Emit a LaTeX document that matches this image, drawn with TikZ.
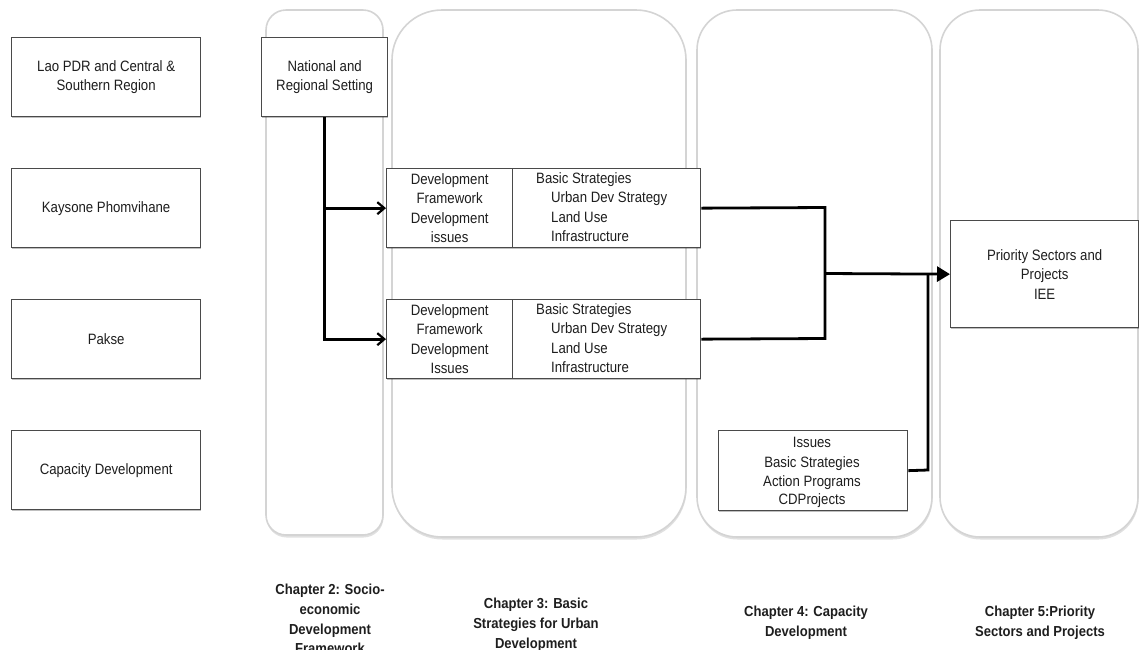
\documentclass[tikz,border=0pt]{standalone}
\usepackage{fontspec}
\setmainfont{Liberation Sans}[FakeStretch=0.88]
\newfontfamily\chapfont{Liberation Sans}[FakeStretch=0.9]
\usetikzlibrary{arrows.meta,shadows}
\definecolor{boxline}{HTML}{4A4A4A}
\definecolor{colline}{HTML}{D4D4D4}
\definecolor{txt}{HTML}{1E1E1E}
\begin{document}
\begin{tikzpicture}[x=1pt,y=-1pt,
  column/.style={draw=colline,line width=1.6pt,fill=white,
    drop shadow={shadow xshift=0.5pt,shadow yshift=-2.5pt,opacity=0.12,fill=black}},
  box/.style={draw=boxline,line width=1.3pt,fill=white,inner sep=0pt,anchor=north west,
    text=txt,align=center,font=\fontsize{15}{19.5}\selectfont,
    drop shadow={shadow xshift=0.6pt,shadow yshift=-1.2pt,opacity=0.25,fill=black}},
  plain/.style={inner sep=0pt,text=txt,font=\fontsize{15}{19.5}\selectfont},
  chap/.style={inner sep=0pt,text=txt,align=center,
    font=\chapfont\bfseries\fontsize{14.5}{19.7}\selectfont},
  conn/.style={line width=2.8pt,black},
  barb/.style={-{Straight Barb[length=7pt,width=12pt,line width=2.2pt]}},
  tri/.style={-{Triangle[length=13pt,width=15pt]}}]
\useasboundingbox (0,0) rectangle (1140,649);
\clip (0,0) rectangle (1140,649);

% chapter columns
\draw[column,rounded corners=20pt] (266,10) rectangle (383,535);
\draw[column,rounded corners=50pt] (392,10) rectangle (686,537);
\draw[column,rounded corners=40pt] (697,10) rectangle (932,537);
\draw[column,rounded corners=40pt] (940,10) rectangle (1138,537);

% area boxes on the left
\node[box,minimum width=189pt,minimum height=79pt] (lao) at (11,37)
  {\raisebox{-2pt}{\parbox{180pt}{\centering Lao PDR and Central \&\\Southern Region}}};
\node[box,minimum width=189pt,minimum height=79pt] (kay) at (11,168)
  {Kaysone Phomvihane};
\node[box,minimum width=189pt,minimum height=79pt] (pak) at (11,299) {Pakse};
\node[box,minimum width=189pt,minimum height=79pt] (cap) at (11,430)
  {Capacity Development};

% chapter 2
\node[box,minimum width=126pt,minimum height=79pt] (nat) at (261,37)
  {\raisebox{-2pt}{\parbox{120pt}{\centering National and\\Regional Setting}}};

% chapter 3 strategy boxes
\node[box,minimum width=126pt,minimum height=79pt] (devL1) at (386,168)
  {Development\\Framework\\Development\\issues};
\node[box,minimum width=188pt,minimum height=79pt] (devR1) at (512,168) {};
\node[plain,anchor=north west,align=left] (strat1) at (536,172)
  {Basic Strategies\\\hspace{15pt}Urban Dev Strategy\\\hspace{15pt}Land Use\\\hspace{15pt}Infrastructure};

\node[box,minimum width=126pt,minimum height=79pt] (devL2) at (386,299)
  {Development\\Framework\\Development\\Issues};
\node[box,minimum width=188pt,minimum height=79pt] (devR2) at (512,299) {};
\node[plain,anchor=north west,align=left] (strat2) at (536,303)
  {Basic Strategies\\\hspace{15pt}Urban Dev Strategy\\\hspace{15pt}Land Use\\\hspace{15pt}Infrastructure};

% chapter 4
\node[box,minimum width=189pt,minimum height=80pt] (cd) at (718,430) {};
\node[plain,align=center,anchor=north] (cdtext) at (812,437)
  {Issues\\Basic Strategies\\Action Programs\\[-1.5pt]CDProjects};

% chapter 5
\node[box,minimum width=188pt,minimum height=107pt] (prio) at (950,220)
  {Priority Sectors and\\Projects\\IEE};

% connectors
\coordinate (j1) at (825,207.5);
\coordinate (j2) at (825,338.5);
\coordinate (jm) at (825,273.5);
\coordinate (k1) at (928,470);
\coordinate (k2) at (928,273.5);
\draw[conn,barb] (nat.south) |- (devL1.west);
\draw[conn,barb] (nat.south) |- (devL2.west);
\draw[conn] (devR1.east) -- (j1) -- (j2) -- (devR2.east);
\draw[conn] (cd.east) -- (k1) -- (k2);
\draw[conn,tri] (jm) -- (prio.west);

% chapter captions
\node[chap,anchor=north] (ch2) at (330,584)
  {Chapter 2: Socio-\\economic\\Development\\Framework};
\node[chap,anchor=north] (ch3) at (536,598)
  {Chapter 3: Basic\\Strategies for Urban\\Development};
\node[chap,anchor=north] (ch4) at (806,606)
  {Chapter 4: Capacity\\Development};
\node[chap,anchor=north] (ch5) at (1040,606)
  {Chapter 5:Priority\\Sectors and Projects};
\end{tikzpicture}
\end{document}
